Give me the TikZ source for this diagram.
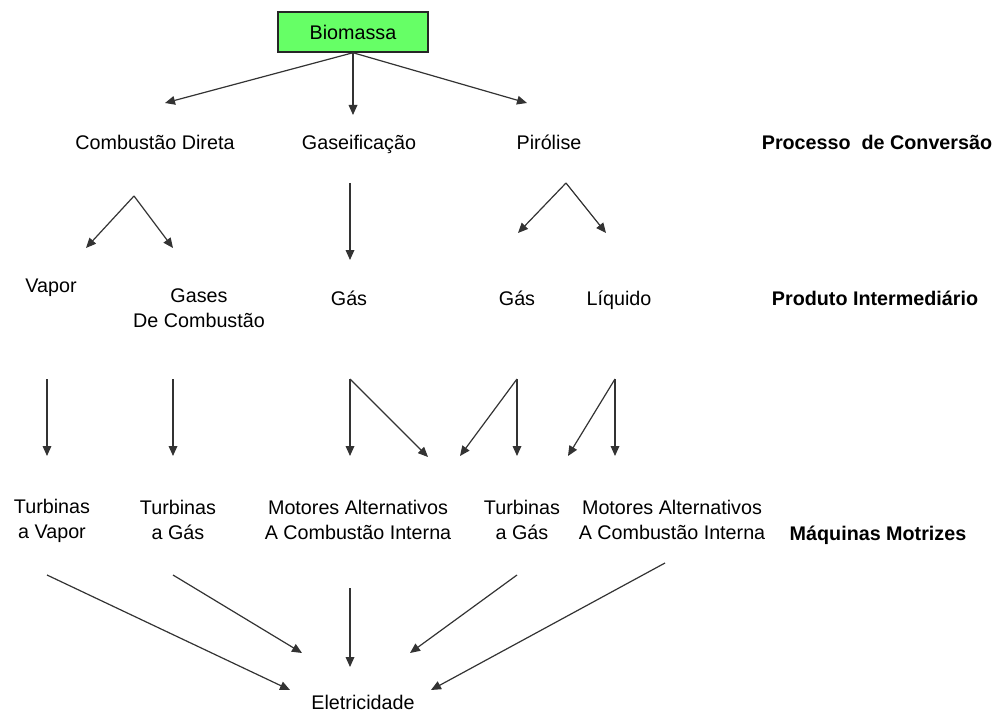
\documentclass[tikz,border=0pt]{standalone}
\usepackage{fontspec}
\setmainfont{Liberation Sans}
\usepackage{xcolor}
\usetikzlibrary{arrows.meta}
\definecolor{biogreen}{HTML}{66FF66}

\begin{document}
\begin{tikzpicture}[
  x=0.75pt, y=-0.75pt,
  txt/.style={font=\fontsize{14.8}{18.75}\selectfont, align=center, inner sep=0pt},
  stage/.style={txt, font=\fontsize{14.8}{18.75}\selectfont\bfseries, anchor=base},
  box/.style={draw=black!85, line width=1.1pt, fill=biogreen, minimum width=112.5pt, minimum height=30pt, txt},
  arr/.style={-{Triangle[length=7.5pt, width=6.5pt]}, line width=0.9pt, draw=black!80}
]
  \useasboundingbox (0,0) rectangle (996,713);

  % conversao
  \node[box] (bio) at (353,32) {Biomassa};
  \node[txt, anchor=base] (comb) at (155,150) {Combustão Direta};
  \node[txt, anchor=base] (gasef) at (359,150) {Gaseificação};
  \node[txt, anchor=base] (piro) at (549,150) {Pirólise};
  \node[stage] (proc) at (877,150) {Processo \ de Conversão};

  % produtos
  \node[txt, anchor=base] (vapor) at (51,292) {Vapor};
  \node[txt] (gases) at (199,308.5) {Gases\\De Combustão};
  \node[txt, anchor=base] (gas1) at (349,305) {Gás};
  \node[txt, anchor=base] (gas2) at (517,305) {Gás};
  \node[txt, anchor=base] (liq) at (619,305) {Líquido};
  \node[stage] (prod) at (875,305) {Produto Intermediário};

  % maquinas
  \node[txt] (tvap) at (52,521) {Turbinas\\a Vapor};
  \node[txt] (tgas1) at (178,520) {Turbinas\\a Gás};
  \node[txt] (mot1) at (358,520) {Motores Alternativos\\A Combustão Interna};
  \node[txt] (tgas2) at (522,520) {Turbinas\\a Gás};
  \node[txt] (mot2) at (672,520) {Motores Alternativos\\A Combustão Interna};
  \node[stage] (maq) at (878,540) {Máquinas Motrizes};

  \node[txt, anchor=base] (elet) at (363,709) {Eletricidade};

  % pontas das setas
  \coordinate (b1) at (165,103);
  \coordinate (b2) at (353,115);
  \coordinate (b3) at (527,103);
  \coordinate (c0) at (134,196);
  \coordinate (c1) at (86,248);
  \coordinate (c2) at (173,248);
  \coordinate (g0) at (350,183);
  \coordinate (g1) at (350,260);
  \coordinate (p0) at (566,183);
  \coordinate (p1) at (518,233);
  \coordinate (p2) at (606,233);
  \coordinate (v0) at (47,379);
  \coordinate (v1) at (47,456);
  \coordinate (s0) at (173,379);
  \coordinate (s1) at (173,456);
  \coordinate (h0) at (350,379);
  \coordinate (h1) at (350,456);
  \coordinate (h2) at (428,457);
  \coordinate (q0) at (517,379);
  \coordinate (q1) at (460,456);
  \coordinate (q2) at (517,456);
  \coordinate (l0) at (615,379);
  \coordinate (l1) at (568,456);
  \coordinate (l2) at (615,456);
  \coordinate (e1) at (47,575);
  \coordinate (e2) at (173,575);
  \coordinate (e3) at (350,588);
  \coordinate (e4) at (517,575);
  \coordinate (e5) at (665,563);
  \coordinate (f1) at (290,690);
  \coordinate (f2) at (302,653);
  \coordinate (f3) at (350,667);
  \coordinate (f4) at (410,653);
  \coordinate (f5) at (431,690);

  \draw[arr] (bio.south) -- (b1);
  \draw[arr] (bio.south) -- (b2);
  \draw[arr] (bio.south) -- (b3);
  \draw[arr] (c0) -- (c1);
  \draw[arr] (c0) -- (c2);
  \draw[arr] (g0) -- (g1);
  \draw[arr] (p0) -- (p1);
  \draw[arr] (p0) -- (p2);
  \draw[arr] (v0) -- (v1);
  \draw[arr] (s0) -- (s1);
  \draw[arr] (h0) -- (h1);
  \draw[arr] (h0) -- (h2);
  \draw[arr] (q0) -- (q1);
  \draw[arr] (q0) -- (q2);
  \draw[arr] (l0) -- (l1);
  \draw[arr] (l0) -- (l2);
  \draw[arr] (e1) -- (f1);
  \draw[arr] (e2) -- (f2);
  \draw[arr] (e3) -- (f3);
  \draw[arr] (e4) -- (f4);
  \draw[arr] (e5) -- (f5);
\end{tikzpicture}
\end{document}
